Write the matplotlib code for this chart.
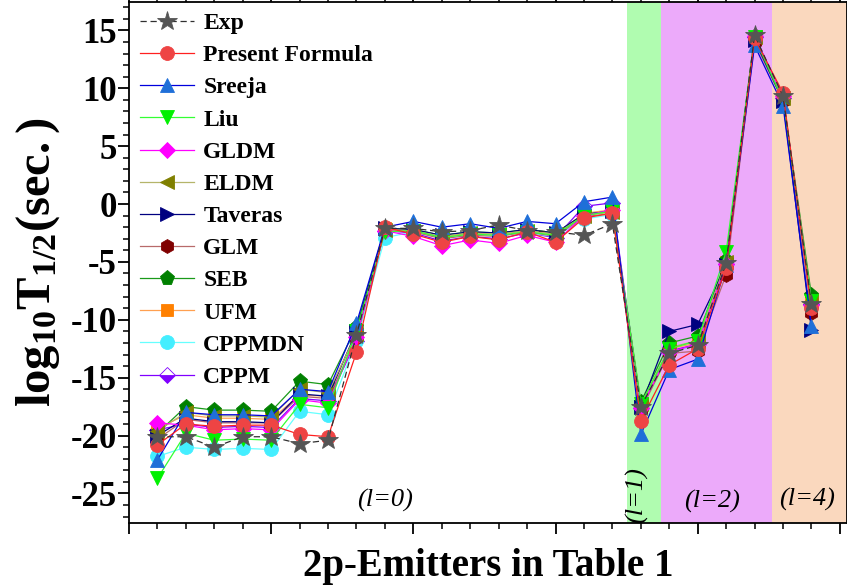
import matplotlib
matplotlib.use("Agg")
import matplotlib.pyplot as plt
from matplotlib.ticker import MultipleLocator

# emitter index along the x axis (Table 1 order)
emitters = list(range(1, 25))

exp_vals = [-20.1, -20.1, -21.0, -20.1, -20.1, -20.7, -20.4, -11.3, -2.1, -2.1, -2.4, -2.3,
            -1.8, -2.3, -2.4, -2.7, -1.7, -17.5, -12.9, -12.2, -5.1, 14.6, 9.3, -8.6]
present_vals = [-20.8, -19.0, -19.2, -19.1, -19.1, -19.9, -20.1, -12.8, -2.0, -2.6, -3.3, -2.8,
                -3.1, -2.4, -3.3, -1.2, -0.8, -18.7, -13.9, -12.5, -5.5, 14.3, 9.6, -9.0]
sreeja_vals = [-22.1, -18.0, -18.2, -18.2, -18.3, -16.0, -16.2, -10.3, -2.0, -1.5, -2.0, -1.7,
               -2.1, -1.5, -1.7, 0.2, 0.6, -19.9, -14.3, -13.4, -5.3, 13.7, 8.5, -10.5]
liu_vals = [-23.7, -19.8, -20.4, -20.3, -20.4, -17.3, -17.6, -11.0, -2.4, -2.3, -2.9, -2.6,
            -2.7, -2.4, -2.7, -1.0, -0.6, -17.3, -12.5, -11.8, -4.1, 14.4, 8.9, -8.4]
gldm_vals = [-18.9, -19.1, -19.5, -19.4, -19.5, -16.9, -17.2, -11.5, -2.3, -2.8, -3.6, -3.1,
             -3.4, -2.7, -3.3, -1.0, -0.5, -17.6, -12.8, -12.1, -5.2, 14.5, 9.3, -8.7]
eldm_vals = [-19.6, -18.0, -18.3, -18.3, -18.4, -16.0, -16.3, -11.2, -2.2, -2.3, -2.8, -2.5,
             -2.6, -2.3, -2.6, -1.0, -0.7, -17.3, -12.4, -11.8, -5.0, 14.4, 9.2, -8.4]
taveras_vals = [-20.0, -18.5, -18.8, -18.8, -18.9, -16.4, -16.6, -11.0, -2.1, -2.2, -2.7, -2.4,
                -2.5, -2.2, -2.5, -0.9, -0.6, -17.5, -11.0, -10.4, -5.3, 14.2, 8.9, -10.9]
glm_vals = [-20.3, -18.6, -18.9, -18.9, -18.9, -16.6, -16.8, -11.6, -2.2, -2.4, -3.0, -2.7,
            -2.8, -2.4, -2.8, -1.1, -0.8, -17.8, -12.9, -12.7, -6.1, 14.0, 8.9, -9.4]
seb_vals = [-19.8, -17.5, -17.8, -17.8, -17.9, -15.3, -15.6, -10.6, -2.1, -2.2, -2.7, -2.4,
            -2.5, -2.2, -2.5, -0.9, -0.6, -17.1, -12.0, -11.4, -4.8, 14.5, 9.2, -7.9]
ufm_vals = [-19.4, -18.2, -18.5, -18.5, -18.6, -16.5, -16.6, -11.0, -2.1, -2.3, -2.9, -2.5,
            -2.6, -2.3, -2.6, -0.8, -0.5, -17.4, -12.5, -12.0, -5.0, 14.3, 9.1, -8.5]
cppmdn_vals = [-21.8, -21.0, -21.2, -21.1, -21.2, -17.9, -18.2, -11.8, -2.9, -2.4, -2.9, -2.6,
               -2.7, -2.5, -2.8, -1.3, -0.9, -17.6, -12.8, -12.2, -5.2, 14.3, 9.0, -8.7]
cppm_vals = [-19.5, -19.0, -19.3, -19.2, -19.3, -16.8, -17.0, -11.8, -2.3, -2.5, -3.2, -2.8,
             -3.0, -2.5, -2.9, -0.2, 0.1, -17.6, -12.7, -12.1, -5.2, 14.4, 9.2, -8.6]

series_names = ["Exp", "Present Formula", "Sreeja", "Liu", "GLDM", "ELDM",
                "Taveras", "GLM", "SEB", "UFM", "CPPMDN", "CPPM"]

# orbital angular momentum bands: (start, end, colour)
l_bands = [(17.5, 18.7, "#b0fcb0"), (18.7, 22.6, "#ecaafa"), (22.6, 25.3, "#fad8be")]


def style_table():
    # marker, marker colour, line colour, marker size
    return {
        "Exp":             ("*", "#555555", "#303030", 15),
        "Present Formula": ("o", "#ee4444", "#ff2020", 10),
        "Sreeja":          ("^", "#1f6fd8", "#0000dd", 10),
        "Liu":             ("v", "#00f000", "#33ff33", 10),
        "GLDM":            ("D", "#ff00ff", "#ff00ff", 8),
        "ELDM":            ("<", "#808000", "#b5b56a", 10),
        "Taveras":         (">", "#000080", "#000080", 10),
        "GLM":             ("h", "#800000", "#b86a6a", 10),
        "SEB":             ("p", "#008000", "#1a9a1a", 11),
        "UFM":             ("s", "#ff8000", "#ffa050", 9),
        "CPPMDN":          ("o", "#44eeff", "#66ffff", 10),
        "CPPM":            ("D", "#8000ff", "#8000ff", 8),
    }


def main():
    plt.rcParams["font.family"] = ["Liberation Serif", "DejaVu Serif"]
    plt.rcParams["font.weight"] = "bold"
    plt.rcParams["axes.unicode_minus"] = False
    plt.rcParams["mathtext.fontset"] = "custom"
    plt.rcParams["mathtext.rm"] = "Liberation Serif:bold"
    plt.rcParams["mathtext.bf"] = "Liberation Serif:bold"
    plt.rcParams["mathtext.it"] = "Liberation Serif:italic"

    fig = plt.figure(figsize=(8.47, 5.88), dpi=100)
    ax = fig.add_axes([129 / 847, 1 - 523 / 588, 1 - 129 / 847, 521 / 588])

    for x0, x1, col in l_bands:
        ax.axvspan(x0, x1, color=col, lw=0, zorder=0)

    values = [exp_vals, present_vals, sreeja_vals, liu_vals, gldm_vals, eldm_vals,
              taveras_vals, glm_vals, seb_vals, ufm_vals, cppmdn_vals, cppm_vals]
    styles = style_table()
    n = len(series_names)
    for i, (name, vals) in enumerate(zip(series_names, values)):
        marker, mcol, lcol, ms = styles[name]
        kw = dict(marker=marker, color=lcol, markerfacecolor=mcol, markeredgecolor=mcol,
                  markersize=ms, lw=0.9, mew=0.6, label=name, zorder=3 + (n - i))
        if name == "Exp":
            kw["ls"] = (0, (5, 3))
            kw["zorder"] = 20
        if name == "Present Formula":
            kw["zorder"] = 19
        if name == "CPPM":
            kw["fillstyle"] = "bottom"
            kw["markerfacecoloralt"] = "white"
        ax.plot(emitters, vals, **kw)

    ax.set_xlim(0, 25.25)
    ax.set_ylim(-27.55, 17.45)
    ax.xaxis.set_major_locator(MultipleLocator(5))
    ax.xaxis.set_minor_locator(MultipleLocator(1))
    ax.yaxis.set_major_locator(MultipleLocator(5))
    ax.yaxis.set_minor_locator(MultipleLocator(1))
    ax.tick_params(axis="both", which="major", direction="out", length=8, width=1.3,
                   labelsize=25, top=True, right=True, pad=1)
    ax.tick_params(axis="both", which="minor", direction="out", length=4, width=1.1,
                   top=True, right=True)
    ax.tick_params(axis="x", which="both", labelbottom=False)
    for lab in ax.get_yticklabels():
        lab.set_fontweight("bold")
    for sp in ax.spines.values():
        sp.set_linewidth(1.3)

    # band labels
    band_font = dict(style="italic", fontweight="normal", fontsize=19, ha="center", va="center")
    ax.text(9.0, -25.6, "(l=0)", **band_font)
    ax.text(17.85, -25.1, "(l=1)", rotation=90, **band_font)
    ax.text(20.5, -25.7, "(l=2)", **band_font)
    ax.text(23.85, -25.5, "(l=4)", **band_font)

    ax.set_xlabel("2p-Emitters in Table 1", fontsize=28, fontweight="bold", labelpad=10)
    ax.set_ylabel(r"$\mathbf{log_{10}T_{1/2}(sec.)}$", fontsize=35, labelpad=6)

    ax.legend(loc="upper left", frameon=False, handlelength=2.3,
              labelspacing=0.45, borderaxespad=0.05, handletextpad=0.4,
              prop={"weight": "bold", "size": 17})

    fig.savefig("out.png", dpi=100)
    plt.close(fig)


if __name__ == "__main__":
    main()
